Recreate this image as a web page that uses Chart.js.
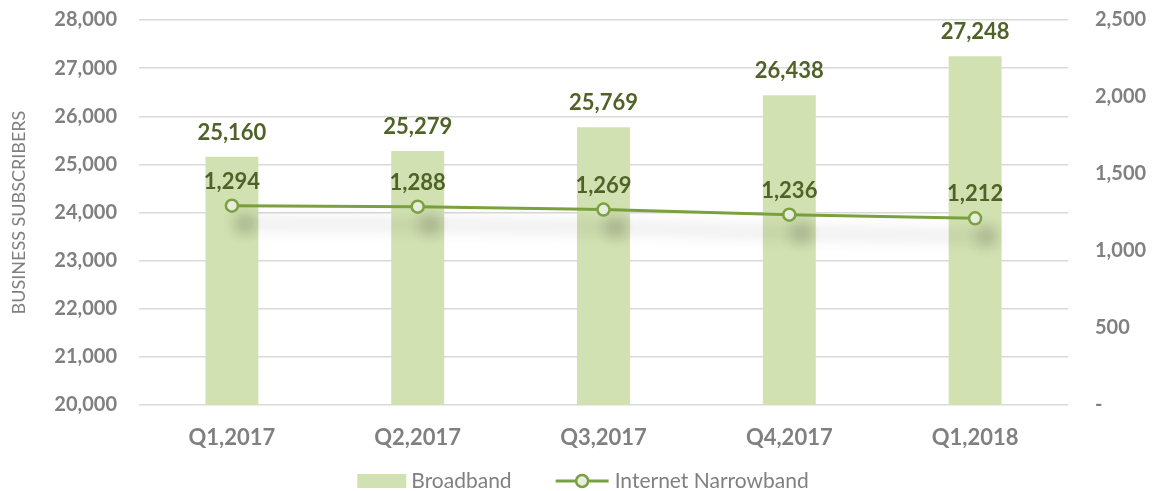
<!DOCTYPE html>
<html>
<head>
<meta charset="utf-8">
<script src="https://cdn.jsdelivr.net/npm/chart.js@4/dist/chart.umd.min.js"></script>
<style>
  html, body { margin: 0; padding: 0; background: #fff; }
  #wrap { width: 1162px; height: 491px; }
</style>
</head>
<body>
<div id="wrap"><canvas id="subsChart" width="1162" height="491"></canvas></div>
<script>
const quarters = ["Q1,2017", "Q2,2017", "Q3,2017", "Q4,2017", "Q1,2018"];
const broadband = [25160, 25279, 25769, 26438, 27248];
const narrowband = [1294, 1288, 1269, 1236, 1212];
const leftTicks = [20000, 21000, 22000, 23000, 24000, 25000, 26000, 27000, 28000];
const rightTicks = [0, 500, 1000, 1500, 2000, 2500];

const BAR_COLOR = "#d2e1b1";
const LINE_COLOR = "#7aa13e";
const LABEL_COLOR = "#4f6228";
const TICK_COLOR = "#808080";
const FONT = "Lato";

function fmt(v) {
  return v.toLocaleString("en-US");
}

// soft drop shadow under the narrowband line, like the original
const lineShadow = {
  id: "lineShadow",
  beforeDatasetDraw(chart, args) {
    if (args.index !== 1) return;
    const ctx = chart.ctx;
    ctx.save();
    ctx.shadowColor = "rgba(0,0,0,0.3)";
    ctx.shadowBlur = 16;
    ctx.shadowOffsetX = 12;
    ctx.shadowOffsetY = 18;
  },
  afterDatasetDraw(chart, args) {
    if (args.index !== 1) return;
    chart.ctx.restore();
  },
};

// value labels above bars and points
const valueLabels = {
  id: "valueLabels",
  afterDatasetsDraw(chart) {
    const ctx = chart.ctx;
    ctx.save();
    ctx.fillStyle = LABEL_COLOR;
    ctx.font = "bold 22px " + FONT;
    ctx.textAlign = "center";
    ctx.textBaseline = "middle";
    chart.data.datasets.forEach((ds, i) => {
      const meta = chart.getDatasetMeta(i);
      meta.data.forEach((el, j) => {
        ctx.fillText(fmt(ds.data[j]), el.x, el.y - 24);
      });
    });
    ctx.restore();
  },
};

// legend drawn at the bottom
const bottomLegend = {
  id: "bottomLegend",
  afterDraw(chart) {
    const ctx = chart.ctx;
    ctx.save();
    ctx.font = "21px " + FONT;
    ctx.textBaseline = "middle";
    const t1 = chart.data.datasets[0].label;
    const t2 = chart.data.datasets[1].label;
    const w1 = ctx.measureText(t1).width;
    const w2 = ctx.measureText(t2).width;
    const total = 49 + 5 + w1 + 44 + 53 + 6 + w2;
    let x = chart.width / 2 + 2 - total / 2;
    const y = 481;
    ctx.fillStyle = BAR_COLOR;
    ctx.fillRect(x, y - 7, 49, 14);
    x += 54;
    ctx.fillStyle = TICK_COLOR;
    ctx.fillText(t1, x, y);
    x += w1 + 44;
    ctx.strokeStyle = LINE_COLOR;
    ctx.lineWidth = 3;
    ctx.beginPath();
    ctx.moveTo(x, y);
    ctx.lineTo(x + 53, y);
    ctx.stroke();
    ctx.beginPath();
    ctx.arc(x + 26.5, y, 6, 0, Math.PI * 2);
    ctx.fillStyle = "#e8eedf";
    ctx.fill();
    ctx.lineWidth = 2.5;
    ctx.stroke();
    x += 59;
    ctx.fillStyle = TICK_COLOR;
    ctx.fillText(t2, x, y);
    ctx.restore();
  },
};

// fixed axis sizes so the plot area sits where the original has it
function fixVertical(width) {
  return function (scale) {
    scale.width = width;
    scale.paddingTop = 0;
    scale.paddingBottom = 0;
  };
}

const ctx = document.getElementById("subsChart").getContext("2d");

new Chart(ctx, {
  type: "bar",
  data: {
    labels: quarters,
    datasets: [
      {
        label: "Broadband",
        data: broadband,
        backgroundColor: BAR_COLOR,
        borderWidth: 0,
        categoryPercentage: 1,
        barPercentage: 0.285,
        yAxisID: "y",
        order: 1,
      },
      {
        type: "line",
        label: "Internet Narrowband",
        data: narrowband,
        borderColor: LINE_COLOR,
        borderWidth: 3,
        pointRadius: 6,
        pointBorderWidth: 2.5,
        pointBackgroundColor: "#e8eedf",
        pointBorderColor: LINE_COLOR,
        tension: 0,
        yAxisID: "y1",
        order: 0,
      },
    ],
  },
  options: {
    responsive: false,
    animation: false,
    layout: { padding: { top: 20, left: 0, right: 0, bottom: 0 } },
    plugins: {
      legend: { display: false },
      tooltip: { enabled: false },
    },
    scales: {
      x: {
        grid: { display: false, drawTicks: false },
        border: { display: false },
        ticks: {
          color: TICK_COLOR,
          font: { family: FONT, size: 22, weight: "bold" },
          padding: 20,
        },
        afterFit(scale) {
          scale.height = 86;
          scale.paddingLeft = 0;
          scale.paddingRight = 0;
        },
      },
      y: {
        position: "left",
        min: 20000,
        max: 28000,
        afterBuildTicks(scale) {
          scale.ticks = leftTicks.map((v) => ({ value: v }));
        },
        grid: { color: "#d9d9d9", lineWidth: 1.5, drawTicks: false },
        border: { display: false },
        ticks: {
          color: TICK_COLOR,
          font: { family: FONT, size: 20, weight: "bold" },
          padding: 22,
          callback: (v) => fmt(v),
        },
        title: {
          display: true,
          text: "BUSINESS SUBSCRIBERS",
          color: TICK_COLOR,
          font: { family: FONT, size: 18 },
          padding: { top: 8, bottom: 0 },
        },
        afterFit: fixVertical(139),
      },
      y1: {
        position: "right",
        min: 0,
        max: 2500,
        afterBuildTicks(scale) {
          scale.ticks = rightTicks.map((v) => ({ value: v }));
        },
        grid: { display: false, drawTicks: false },
        border: { display: false },
        ticks: {
          color: TICK_COLOR,
          font: { family: FONT, size: 20, weight: "bold" },
          padding: 27,
          callback: (v) => (v === 0 ? "-" : fmt(v)),
        },
        afterFit: fixVertical(94),
      },
    },
  },
  plugins: [lineShadow, valueLabels, bottomLegend],
});
</script>
</body>
</html>
